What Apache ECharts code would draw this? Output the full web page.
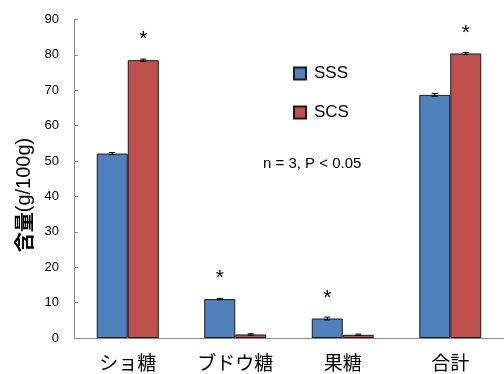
<!DOCTYPE html>
<html>
<head>
<meta charset="utf-8">
<script src="https://cdn.jsdelivr.net/npm/echarts@6/dist/echarts.min.js"></script>
<style>
  html, body { margin: 0; padding: 0; background: #fff; }
  #chart { width: 504px; height: 374px; }
</style>
</head>
<body>
<div id="chart"></div>
<script>
// Sugar content (g/100g) by sugar type for two samples
const categories = ['ショ糖', 'ブドウ糖', '果糖', '合計'];
const sssValues = [52.1, 11.0, 5.5, 68.7];
const scsValues = [78.5, 1.0, 0.9, 80.4];
const sssErrors = [0.3, 0.2, 0.4, 0.4];
const scsErrors = [0.3, 0.2, 0.2, 0.3];
const sssSignificant = [false, true, true, false];
const scsSignificant = [true, false, false, true];
const yTicks = [0, 10, 20, 30, 40, 50, 60, 70, 80, 90];

const BAR_W = 31;
const FONT = "'Liberation Sans', 'Noto Sans CJK JP', sans-serif";
const CJK = "'Noto Sans CJK JP', sans-serif";

function barData(values, sig) {
  return values.map((v, i) => ({
    value: v,
    label: { show: sig[i], formatter: '*', position: 'top', distance: 10,
             fontSize: 21, color: '#000', fontFamily: FONT }
  }));
}

function errorSeries(name, values, errors, offset) {
  return {
    type: 'custom',
    name: name + '-err',
    silent: true,
    z: 5,
    data: values.map((v, i) => [i, v, errors[i]]),
    renderItem(params, api) {
      const i = api.value(0), v = api.value(1), e = api.value(2);
      const top = api.coord([i, v + e]);
      const bot = api.coord([i, v - e]);
      const x = top[0] + offset;
      const cap = 3;
      const style = { stroke: '#000', lineWidth: 1 };
      return {
        type: 'group',
        children: [
          { type: 'line', shape: { x1: x, y1: top[1], x2: x, y2: bot[1] }, style },
          { type: 'line', shape: { x1: x - cap, y1: top[1], x2: x + cap, y2: top[1] }, style },
          { type: 'line', shape: { x1: x - cap, y1: bot[1], x2: x + cap, y2: bot[1] }, style }
        ]
      };
    }
  };
}

const chart = echarts.init(document.getElementById('chart'), null, { renderer: 'canvas' });
chart.setOption({
  animation: false,
  backgroundColor: '#fff',
  grid: { left: 74, top: 19.5, bottom: 36, right: -6, containLabel: false },
  legend: {
    data: ['SSS', 'SCS'],
    orient: 'vertical',
    left: 288, top: 60,
    icon: 'rect',
    itemWidth: 12, itemHeight: 12,
    itemGap: 22,
    textStyle: { fontSize: 17, color: '#000', fontFamily: FONT, padding: [0, 0, 0, 3] }
  },
  graphic: [
    {
      type: 'text',
      left: 263, top: 156,
      style: { text: 'n = 3, P < 0.05', fontSize: 15, fill: '#000', fontFamily: FONT }
    },
    {
      // rotated y-axis title
      type: 'text',
      x: 24, y: 195,
      rotation: Math.PI / 2,
      style: {
        text: '{b|含量}{n|(g/100g)}',
        align: 'center', verticalAlign: 'middle',
        rich: {
          b: { fontSize: 20, fontWeight: 'bold', fill: '#000', fontFamily: CJK },
          n: { fontSize: 20, fill: '#000', fontFamily: FONT }
        }
      }
    }
  ],
  xAxis: {
    type: 'category',
    data: categories,
    axisLine: { lineStyle: { color: '#888', width: 1 } },
    axisTick: { inside: true, length: 6, lineStyle: { color: '#888' } },
    axisLabel: { fontSize: 19, color: '#000', fontFamily: CJK, margin: 15 }
  },
  yAxis: {
    type: 'value',
    min: yTicks[0], max: yTicks[yTicks.length - 1], interval: 10,
    axisLine: { show: true, lineStyle: { color: '#888', width: 1 } },
    axisTick: { show: true, inside: true, length: 4, lineStyle: { color: '#888' } },
    splitLine: { show: false },
    axisLabel: { fontSize: 13, color: '#000', fontFamily: FONT, margin: 15 }
  },
  series: [
    {
      name: 'SSS', type: 'bar', barWidth: BAR_W, barGap: '0%',
      itemStyle: { color: '#4F81BD', borderColor: '#1a1a1a', borderWidth: 1 },
      data: barData(sssValues, sssSignificant)
    },
    {
      name: 'SCS', type: 'bar', barWidth: BAR_W, barGap: '0%',
      itemStyle: { color: '#C0504D', borderColor: '#1a1a1a', borderWidth: 1 },
      data: barData(scsValues, scsSignificant)
    },
    errorSeries('SSS', sssValues, sssErrors, -BAR_W / 2),
    errorSeries('SCS', scsValues, scsErrors, BAR_W / 2)
  ]
});
</script>
</body>
</html>
